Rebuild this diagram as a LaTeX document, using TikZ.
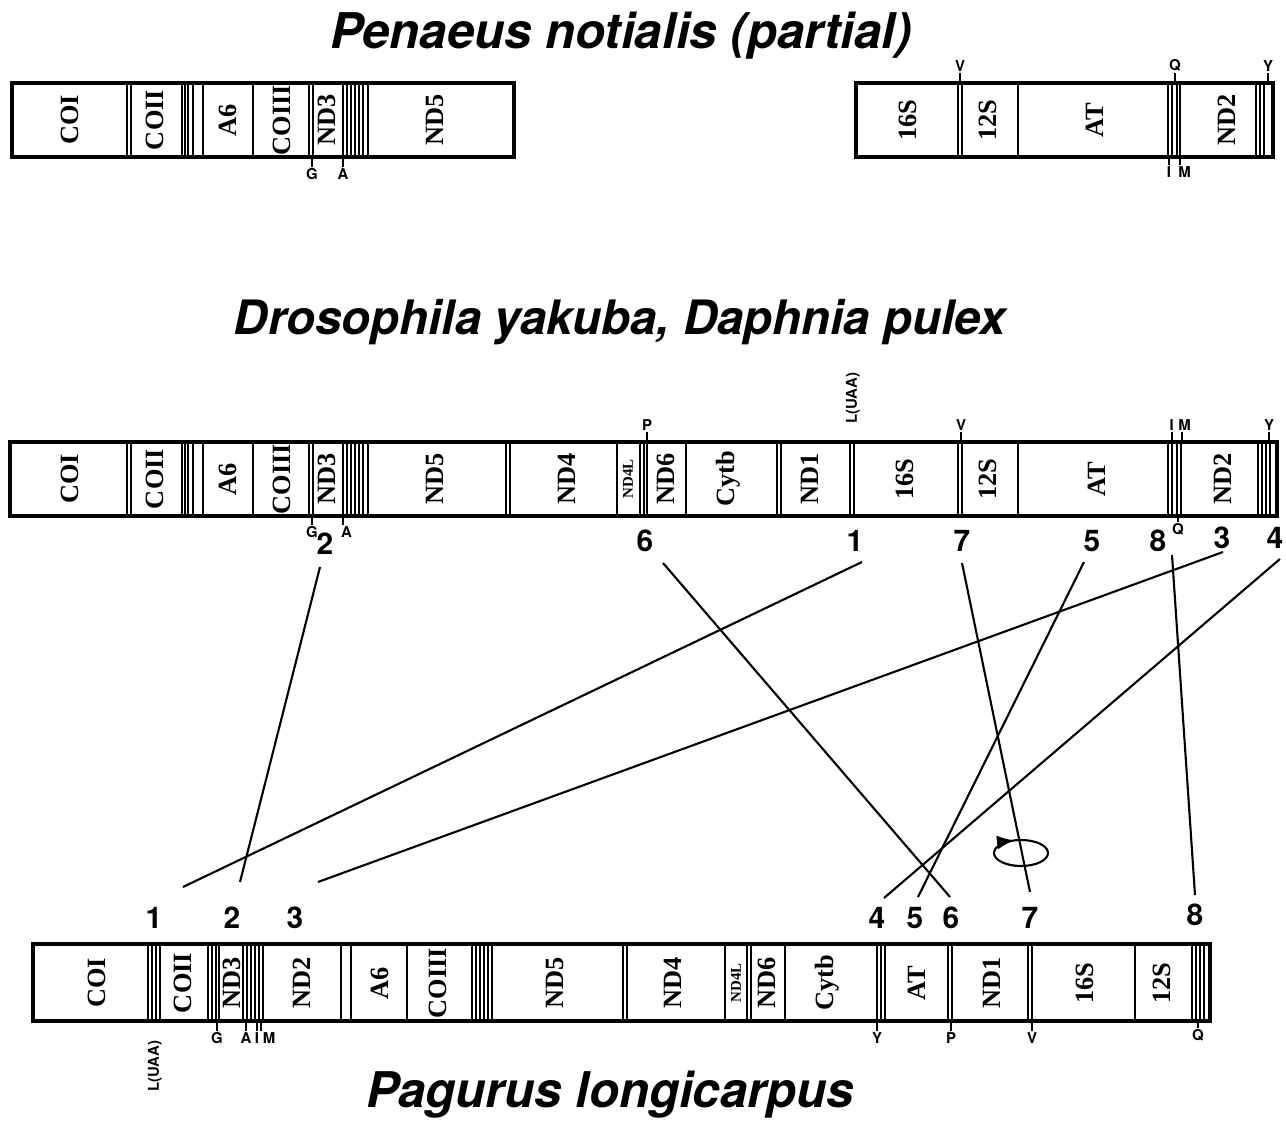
\documentclass[tikz,border=0pt]{standalone}
\usepackage{fontspec}
\setmainfont{Liberation Serif}
\setsansfont{TeX Gyre Heros}
\usetikzlibrary{arrows.meta,decorations.markings,positioning}
\tikzset{
    genome/.style={line width=2.7pt},
    bar/.style={line width=1pt},
    gene/.style={rotate=90, inner sep=0pt, font=\bfseries\fontsize{15}{15}\selectfont},
    smallgene/.style={rotate=90, inner sep=0pt, font=\bfseries\fontsize{8.5}{9}\selectfont},
    trna/.style={inner sep=0.5pt, font=\sffamily\bfseries\fontsize{8.5}{9}\selectfont},
    num/.style={inner sep=1pt, font=\sffamily\bfseries\fontsize{17}{17}\selectfont},
    species/.style={font=\sffamily\bfseries\itshape\fontsize{28}{30}\selectfont},
    link/.style={line width=1.2pt}
}
\begin{document}
\begin{tikzpicture}[x=0.02cm, y=-0.02cm]
            \useasboundingbox (0,0) rectangle (1286,1121);

            \def\ta{83}
            \def\tb{157}
            \def\ma{442}
            \def\mb{516}
            \def\ba{944}
            \def\bb{1021}

            % Penaeus notialis
            \node[species] (pn) at (621,36) {Penaeus notialis (partial)};
            \draw[genome] (12,\ta) rectangle (514,\tb);
            \draw[genome] (856,\ta) rectangle (1273,\tb);
            \foreach \x in {127,131,182,185,188,193,203,253,309,313,343,347,351,355,359,363,368,
                            958,962,1018,1168,1172,1177,1180,1256,1260,1264}
                \draw[bar] (\x,\ta) -- (\x,\tb);

            \node[gene] (pnCOI) at (70,120) {COI};
            \node[gene] (pnCOII) at (155,120) {COII};
            \node[gene] (pnA6) at (228,120) {A6};
            \node[gene] (pnCOIII) at (282,120) {COIII};
            \node[gene] (pnND3) at (327,120) {ND3};
            \node[gene] (pnND5) at (435,120) {ND5};
            \node[gene] (pn16S) at (908,120) {16S};
            \node[gene] (pn12S) at (988,120) {12S};
            \node[gene] (pnAT) at (1095,120) {AT};
            \node[gene] (pnND2) at (1227,120) {ND2};

            \draw[bar] (312,\tb) -- ++(0,10) node[trna, below] (pnG) {G};
            \draw[bar] (343,\tb) -- ++(0,10) node[trna, below] (pnA) {A};
            \draw[bar] (960,\ta) -- ++(0,-10) node[trna, above] (pnV) {V};
            \draw[bar] (1175,\ta) -- ++(0,-10) node[trna, above] (pnQ) {Q};
            \draw[bar] (1268,\ta) -- ++(0,-10) node[trna, above] (pnY) {Y};
            \draw[bar] (1169,\tb) -- ++(0,8) node[trna, below] (pnI) {I};
            \draw[bar] (1180,\tb) -- ++(0,8) node[trna, below right=0pt and -2pt] (pnM) {M};

            % Drosophila yakuba, Daphnia pulex
            \node[species, font=\sffamily\bfseries\itshape\fontsize{27}{30}\selectfont] (dy) at (620,322) {Drosophila yakuba, Daphnia pulex};
            \draw[genome] (10,\ma) rectangle (1277,\mb);
            \foreach \x in {127,131,182,185,188,193,203,253,309,313,343,347,351,355,359,363,368,
                            506,510,617,640,644,647,686,777,781,850,854,958,962,1018,
                            1168,1172,1177,1181,1258,1262,1266,1270}
                \draw[bar] (\x,\ma) -- (\x,\mb);

            \node[gene] (dyCOI) at (70,479) {COI};
            \node[gene] (dyCOII) at (155,479) {COII};
            \node[gene] (dyA6) at (228,479) {A6};
            \node[gene] (dyCOIII) at (282,479) {COIII};
            \node[gene] (dyND3) at (327,479) {ND3};
            \node[gene] (dyND5) at (435,479) {ND5};
            \node[gene] (dyND4) at (567,479) {ND4};
            \node[smallgene] (dyND4L) at (628,479) {ND4L};
            \node[gene] (dyND6) at (666,479) {ND6};
            \node[gene] (dyCytb) at (728,479) {Cytb};
            \node[gene] (dyND1) at (810,479) {ND1};
            \node[gene] (dy16S) at (905,479) {16S};
            \node[gene] (dy12S) at (988,479) {12S};
            \node[gene] (dyAT) at (1097,479) {AT};
            \node[gene] (dyND2) at (1223,479) {ND2};

            \draw[bar] (312,\mb) -- ++(0,9) node[trna, below] (dyG) {G};
            \draw[bar] (343,\mb) -- ++(0,9) node[trna, below right=0pt and -2pt] (dyA) {A};
            \draw[bar] (647,\ma) -- ++(0,-10) node[trna, above] (dyP) {P};
            \draw[bar] (961,\ma) -- ++(0,-10) node[trna, above] (dyV) {V};
            \draw[bar] (1172,\ma) -- ++(0,-10) node[trna, above left=0pt and -2pt] (dyI) {I};
            \draw[bar] (1182,\ma) -- ++(0,-10) node[trna, above right=0pt and -3pt] (dyM) {M};
            \draw[bar] (1269,\ma) -- ++(0,-10) node[trna, above] (dyY) {Y};
            \draw[bar] (1178,\mb) -- ++(0,6) node[trna, below] (dyQ) {Q};
            \node[trna, rotate=90] (dyL) at (853,398) {L(UAA)};

            \node[num] (d2) at (325,544) {2};
            \node[num] (d6) at (645,541) {6};
            \node[num] (d1) at (855,541) {1};
            \node[num] (d7) at (962,541) {7};
            \node[num] (d5) at (1092,541) {5};
            \node[num] (d8) at (1158,541) {8};
            \node[num] (d3) at (1222,538) {3};
            \node[num] (d4) at (1275,538) {4};

            % Pagurus longicarpus
            \node[species] (pl) at (610,1095) {Pagurus longicarpus};
            \draw[genome] (33,\ba) rectangle (1210,\bb);
            \foreach \x in {148,152,156,160,208,212,216,219,243,247,251,255,259,263,341,351,407,
                            472,476,480,484,488,492,623,627,725,747,751,785,877,881,885,
                            948,952,1028,1032,1135,1192,1196,1200,1204}
                \draw[bar] (\x,\ba) -- (\x,\bb);

            \node[gene] (plCOI) at (97,983) {COI};
            \node[gene] (plCOII) at (183,983) {COII};
            \node[gene] (plND3) at (232,983) {ND3};
            \node[gene] (plND2) at (302,983) {ND2};
            \node[gene] (plA6) at (380,983) {A6};
            \node[gene] (plCOIII) at (438,983) {COIII};
            \node[gene] (plND5) at (555,983) {ND5};
            \node[gene] (plND4) at (673,983) {ND4};
            \node[smallgene] (plND4L) at (736,983) {ND4L};
            \node[gene] (plND6) at (767,983) {ND6};
            \node[gene] (plCytb) at (827,983) {Cytb};
            \node[gene] (plAT) at (917,983) {AT};
            \node[gene] (plND1) at (992,983) {ND1};
            \node[gene] (pl16S) at (1085,983) {16S};
            \node[gene] (pl12S) at (1162,983) {12S};

            \draw[bar] (217,\bb) -- ++(0,10) node[trna, below] (plG) {G};
            \draw[bar] (246,\bb) -- ++(0,10) node[trna, below] (plA) {A};
            \draw[bar] (257,\bb) -- ++(0,10) node[trna, below] (plI) {I};
            \draw[bar] (261,\bb) -- ++(0,10) node[trna, below right=0pt and 0pt] (plM) {M};
            \draw[bar] (877,\bb) -- ++(0,10) node[trna, below] (plY) {Y};
            \draw[bar] (951,\bb) -- ++(0,10) node[trna, below] (plP) {P};
            \draw[bar] (1032,\bb) -- ++(0,10) node[trna, below] (plV) {V};
            \draw[bar] (1198,\bb) -- ++(0,7) node[trna, below] (plQ) {Q};
            \node[trna, rotate=90] (plL) at (155,1066) {L(UAA)};

            \node[num] (p1) at (154,918) {1};
            \node[num] (p2) at (232,918) {2};
            \node[num] (p3) at (295,918) {3};
            \node[num] (p4) at (877,918) {4};
            \node[num] (p5) at (915,918) {5};
            \node[num] (p6) at (951,918) {6};
            \node[num] (p7) at (1030,918) {7};
            \node[num] (p8) at (1195,915) {8};

            \draw[link] ([shift={(7,21)}]d1.center) -- ([shift={(29,-31)}]p1.center);
            \draw[link] ([shift={(-5,23)}]d2.center) -- ([shift={(8,-36)}]p2.center);
            \draw[link] ([shift={(1,14)}]d3.center) -- ([shift={(23,-36)}]p3.center);
            \draw[link] ([shift={(5,21)}]d4.center) -- ([shift={(7,-20)}]p4.center);
            \draw[link] ([shift={(-8,21)}]d5.center) -- ([shift={(3,-21)}]p5.center);
            \draw[link] ([shift={(18,22)}]d6.center) -- ([shift={(-1,-21)}]p6.center);
            \draw[link] ([shift={(0,22)}]d7.center) -- ([shift={(0,-26)}]p7.center);
            \draw[link] ([shift={(14,14)}]d8.center) -- ([shift={(0,-20)}]p8.center);

            \draw[link, postaction={decorate},
                  decoration={markings, mark=at position 0.7 with {\arrow{Latex[length=10pt,width=8pt]}}}]
                (1021,853) ellipse (27 and 13);

        \end{tikzpicture}
\end{document}
